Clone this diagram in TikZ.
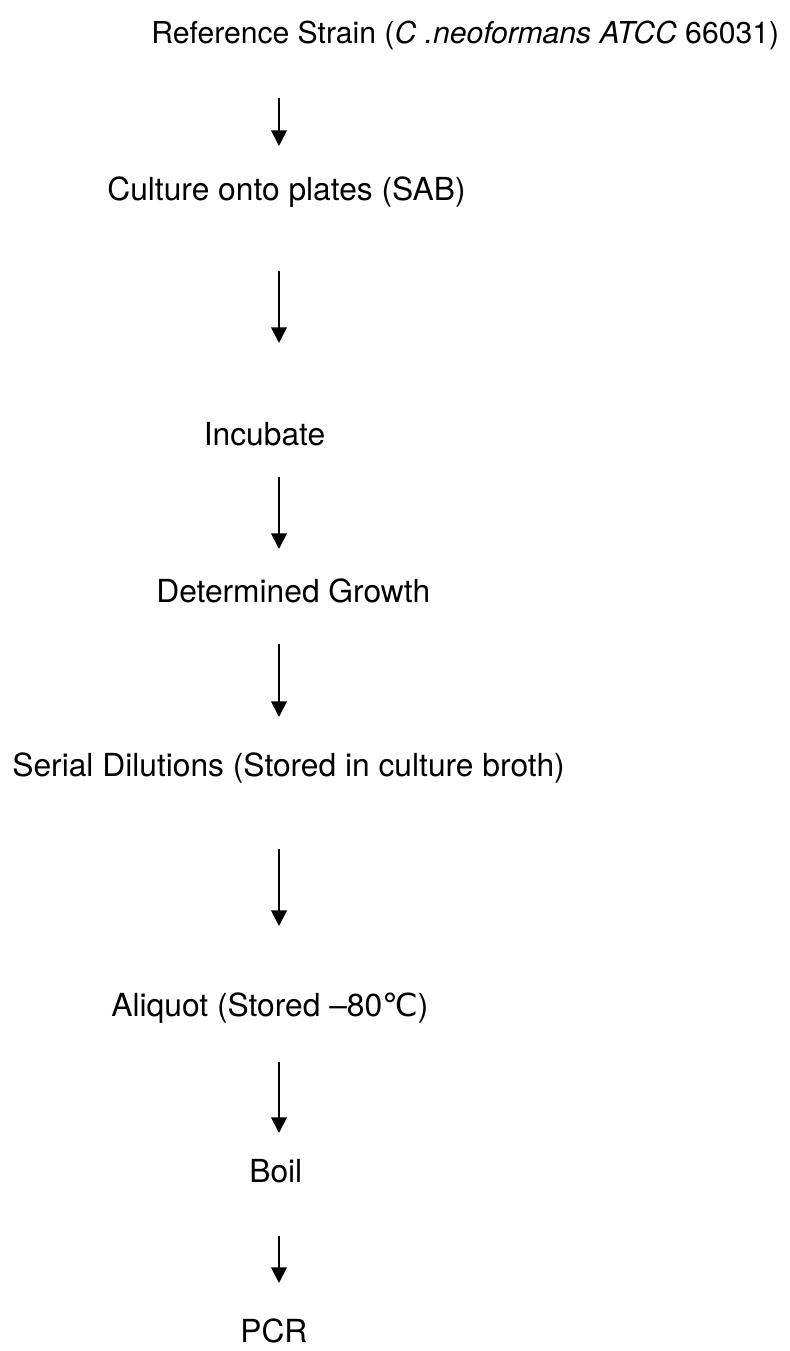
\documentclass[tikz,border=0pt]{standalone}
\usepackage{fontspec}
\setmainfont{TeX Gyre Heros}
\newfontfamily\degfont{DejaVu Sans}
\usetikzlibrary{arrows.meta}

\begin{document}
\begin{tikzpicture}[
  >={Triangle[width=3.1mm,length=3.1mm]},
  lbl/.style={anchor=base west, inner sep=0pt, font=\fontsize{18.07}{22}\selectfont},
  ttl/.style={anchor=base west, inner sep=0pt, font=\fontsize{17.15}{21}\selectfont},
  flowarr/.style={->, line width=1.1pt, color=black},
]
\useasboundingbox (0,0) rectangle (15.78,27.02);
\node[ttl] (refstrain) at (3.02,26.14) {Reference Strain (\textit{C .neoformans ATCC} 66031)};
\node[lbl] (culture) at (2.14,23.00) {Culture onto plates (SAB)};
\node[lbl] (incubate) at (4.07,18.10) {Incubate};
\node[lbl] (growth) at (3.12,14.96) {Determined Growth};
\node[lbl] (serial) at (0.24,11.48) {Serial Dilutions (Stored in culture broth)};
\node[lbl] (aliquot) at (2.22,6.68) {Aliquot (Stored –80{\degfont ℃})};
\node[lbl] (boil) at (4.98,3.36) {Boil};
\node[lbl] (pcr) at (4.80,0.18) {PCR};
\coordinate (a1s) at (5.58,25.06); \coordinate (a1e) at (5.58,24.10);
\coordinate (a2s) at (5.58,21.60); \coordinate (a2e) at (5.58,20.16);
\coordinate (a3s) at (5.58,17.48); \coordinate (a3e) at (5.58,16.04);
\coordinate (a4s) at (5.58,14.14); \coordinate (a4e) at (5.58,12.68);
\coordinate (a5s) at (5.58,10.04); \coordinate (a5e) at (5.58,8.50);
\coordinate (a6s) at (5.58,5.78); \coordinate (a6e) at (5.58,4.36);
\coordinate (a7s) at (5.58,2.30); \coordinate (a7e) at (5.58,1.36);
\draw[flowarr] (a1s) -- (a1e); \draw[flowarr] (a2s) -- (a2e); \draw[flowarr] (a3s) -- (a3e);
\draw[flowarr] (a4s) -- (a4e); \draw[flowarr] (a5s) -- (a5e); \draw[flowarr] (a6s) -- (a6e);
\draw[flowarr] (a7s) -- (a7e);
\end{tikzpicture}
\end{document}
